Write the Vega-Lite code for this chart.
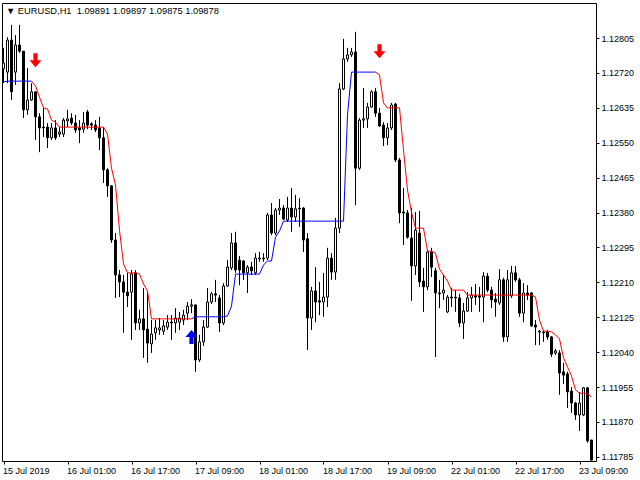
{
  "$schema": "https://vega.github.io/schema/vega-lite/v6.json",
  "width": 594,
  "height": 458,
  "autosize": {"type": "none"},
  "padding": {"left": 2, "top": 3, "right": 44, "bottom": 19},
  "background": "white",
  "title": {
    "text": "▼ EURUSD,H1\u00a0 1.09891 1.09897 1.09875 1.09878",
    "anchor": "start",
    "frame": "group",
    "offset": -13,
    "dx": 4,
    "font": "Liberation Sans",
    "fontSize": 9.3,
    "fontWeight": "normal",
    "color": "black"
  },
  "datasets": {
    "bars": [
      {"i":0,"o":1.12730,"h":1.12781,"l":1.12695,"c":1.12744},
      {"i":1,"o":1.12722,"h":1.12807,"l":1.12695,"c":1.12800},
      {"i":2,"o":1.12800,"h":1.12837,"l":1.12654,"c":1.12674},
      {"i":3,"o":1.12722,"h":1.12812,"l":1.12691,"c":1.12788},
      {"i":4,"o":1.12788,"h":1.12837,"l":1.12769,"c":1.12773},
      {"i":5,"o":1.12773,"h":1.12773,"l":1.12610,"c":1.12630},
      {"i":6,"o":1.12630,"h":1.12732,"l":1.12618,"c":1.12654},
      {"i":7,"o":1.12654,"h":1.12695,"l":1.12652,"c":1.12674},
      {"i":8,"o":1.12674,"h":1.12674,"l":1.12557,"c":1.12613},
      {"i":9,"o":1.12613,"h":1.12622,"l":1.12527,"c":1.12586},
      {"i":10,"o":1.12588,"h":1.12635,"l":1.12564,"c":1.12586},
      {"i":11,"o":1.12588,"h":1.12598,"l":1.12537,"c":1.12562},
      {"i":12,"o":1.12562,"h":1.12598,"l":1.12557,"c":1.12586},
      {"i":13,"o":1.12586,"h":1.12605,"l":1.12557,"c":1.12562},
      {"i":14,"o":1.12571,"h":1.12588,"l":1.12564,"c":1.12576},
      {"i":15,"o":1.12571,"h":1.12610,"l":1.12564,"c":1.12605},
      {"i":16,"o":1.12603,"h":1.12630,"l":1.12588,"c":1.12608},
      {"i":17,"o":1.12610,"h":1.12622,"l":1.12593,"c":1.12598},
      {"i":18,"o":1.12598,"h":1.12618,"l":1.12574,"c":1.12581},
      {"i":19,"o":1.12586,"h":1.12605,"l":1.12549,"c":1.12581},
      {"i":20,"o":1.12583,"h":1.12625,"l":1.12574,"c":1.12598},
      {"i":21,"o":1.12625,"h":1.12630,"l":1.12583,"c":1.12593},
      {"i":22,"o":1.12596,"h":1.12600,"l":1.12581,"c":1.12593},
      {"i":23,"o":1.12593,"h":1.12605,"l":1.12576,"c":1.12581},
      {"i":24,"o":1.12586,"h":1.12613,"l":1.12532,"c":1.12562},
      {"i":25,"o":1.12562,"h":1.12588,"l":1.12452,"c":1.12484},
      {"i":26,"o":1.12484,"h":1.12488,"l":1.12418,"c":1.12445},
      {"i":27,"o":1.12445,"h":1.12447,"l":1.12306,"c":1.12313},
      {"i":28,"o":1.12313,"h":1.12330,"l":1.12172,"c":1.12228},
      {"i":29,"o":1.12228,"h":1.12240,"l":1.12174,"c":1.12211},
      {"i":30,"o":1.12211,"h":1.12228,"l":1.12087,"c":1.12186},
      {"i":31,"o":1.12186,"h":1.12233,"l":1.12150,"c":1.12177},
      {"i":32,"o":1.12186,"h":1.12240,"l":1.12070,"c":1.12230},
      {"i":33,"o":1.12233,"h":1.12240,"l":1.12094,"c":1.12111},
      {"i":34,"o":1.12111,"h":1.12143,"l":1.12094,"c":1.12121},
      {"i":35,"o":1.12121,"h":1.12196,"l":1.12026,"c":1.12094},
      {"i":36,"o":1.12096,"h":1.12186,"l":1.12014,"c":1.12062},
      {"i":37,"o":1.12060,"h":1.12118,"l":1.12038,"c":1.12084},
      {"i":38,"o":1.12087,"h":1.12118,"l":1.12070,"c":1.12099},
      {"i":39,"o":1.12094,"h":1.12123,"l":1.12082,"c":1.12099},
      {"i":40,"o":1.12091,"h":1.12118,"l":1.12082,"c":1.12104},
      {"i":41,"o":1.12101,"h":1.12130,"l":1.12094,"c":1.12113},
      {"i":42,"o":1.12113,"h":1.12130,"l":1.12070,"c":1.12111},
      {"i":43,"o":1.12111,"h":1.12147,"l":1.12087,"c":1.12123},
      {"i":44,"o":1.12113,"h":1.12138,"l":1.12094,"c":1.12123},
      {"i":45,"o":1.12118,"h":1.12143,"l":1.12106,"c":1.12130},
      {"i":46,"o":1.12135,"h":1.12162,"l":1.12118,"c":1.12152},
      {"i":47,"o":1.12152,"h":1.12169,"l":1.12135,"c":1.12155},
      {"i":48,"o":1.12155,"h":1.12155,"l":1.11992,"c":1.12021},
      {"i":49,"o":1.12021,"h":1.12082,"l":1.12016,"c":1.12065},
      {"i":50,"o":1.12065,"h":1.12118,"l":1.12055,"c":1.12101},
      {"i":51,"o":1.12101,"h":1.12196,"l":1.12099,"c":1.12162},
      {"i":52,"o":1.12162,"h":1.12186,"l":1.12157,"c":1.12182},
      {"i":53,"o":1.12182,"h":1.12216,"l":1.12162,"c":1.12179},
      {"i":54,"o":1.12172,"h":1.12179,"l":1.12089,"c":1.12111},
      {"i":55,"o":1.12111,"h":1.12208,"l":1.12106,"c":1.12201},
      {"i":56,"o":1.12201,"h":1.12264,"l":1.12199,"c":1.12247},
      {"i":57,"o":1.12245,"h":1.12330,"l":1.12240,"c":1.12306},
      {"i":58,"o":1.12306,"h":1.12333,"l":1.12233,"c":1.12240},
      {"i":59,"o":1.12264,"h":1.12274,"l":1.12203,"c":1.12240},
      {"i":60,"o":1.12262,"h":1.12264,"l":1.12216,"c":1.12233},
      {"i":61,"o":1.12233,"h":1.12252,"l":1.12184,"c":1.12247},
      {"i":62,"o":1.12247,"h":1.12260,"l":1.12228,"c":1.12238},
      {"i":63,"o":1.12233,"h":1.12281,"l":1.12228,"c":1.12269},
      {"i":64,"o":1.12267,"h":1.12284,"l":1.12260,"c":1.12269},
      {"i":65,"o":1.12267,"h":1.12281,"l":1.12260,"c":1.12269},
      {"i":66,"o":1.12269,"h":1.12379,"l":1.12264,"c":1.12374},
      {"i":67,"o":1.12374,"h":1.12403,"l":1.12325,"c":1.12330},
      {"i":68,"o":1.12330,"h":1.12391,"l":1.12325,"c":1.12386},
      {"i":69,"o":1.12386,"h":1.12413,"l":1.12374,"c":1.12391},
      {"i":70,"o":1.12391,"h":1.12398,"l":1.12362,"c":1.12364},
      {"i":71,"o":1.12362,"h":1.12418,"l":1.12357,"c":1.12391},
      {"i":72,"o":1.12391,"h":1.12440,"l":1.12333,"c":1.12369},
      {"i":73,"o":1.12369,"h":1.12423,"l":1.12357,"c":1.12389},
      {"i":74,"o":1.12391,"h":1.12415,"l":1.12345,"c":1.12389},
      {"i":75,"o":1.12391,"h":1.12393,"l":1.12284,"c":1.12313},
      {"i":76,"o":1.12316,"h":1.12330,"l":1.12045,"c":1.12123},
      {"i":77,"o":1.12123,"h":1.12199,"l":1.12094,"c":1.12189},
      {"i":78,"o":1.12189,"h":1.12247,"l":1.12113,"c":1.12162},
      {"i":79,"o":1.12165,"h":1.12211,"l":1.12130,"c":1.12162},
      {"i":80,"o":1.12162,"h":1.12233,"l":1.12126,"c":1.12174},
      {"i":81,"o":1.12174,"h":1.12294,"l":1.12150,"c":1.12269},
      {"i":82,"o":1.12269,"h":1.12281,"l":1.12216,"c":1.12235},
      {"i":83,"o":1.12235,"h":1.12367,"l":1.12216,"c":1.12342},
      {"i":84,"o":1.12342,"h":1.12695,"l":1.12330,"c":1.12681},
      {"i":85,"o":1.12681,"h":1.12803,"l":1.12678,"c":1.12754},
      {"i":86,"o":1.12754,"h":1.12781,"l":1.12747,"c":1.12764},
      {"i":87,"o":1.12764,"h":1.12781,"l":1.12759,"c":1.12771},
      {"i":88,"o":1.12771,"h":1.12820,"l":1.12398,"c":1.12488},
      {"i":89,"o":1.12488,"h":1.12610,"l":1.12484,"c":1.12605},
      {"i":90,"o":1.12605,"h":1.12683,"l":1.12586,"c":1.12608},
      {"i":91,"o":1.12608,"h":1.12647,"l":1.12586,"c":1.12637},
      {"i":92,"o":1.12637,"h":1.12678,"l":1.12635,"c":1.12674},
      {"i":93,"o":1.12674,"h":1.12683,"l":1.12613,"c":1.12622},
      {"i":94,"o":1.12622,"h":1.12635,"l":1.12588,"c":1.12591},
      {"i":95,"o":1.12593,"h":1.12600,"l":1.12542,"c":1.12562},
      {"i":96,"o":1.12562,"h":1.12598,"l":1.12544,"c":1.12586},
      {"i":97,"o":1.12586,"h":1.12647,"l":1.12581,"c":1.12642},
      {"i":98,"o":1.12644,"h":1.12647,"l":1.12503,"c":1.12508},
      {"i":99,"o":1.12508,"h":1.12513,"l":1.12354,"c":1.12379},
      {"i":100,"o":1.12381,"h":1.12440,"l":1.12301,"c":1.12379},
      {"i":101,"o":1.12379,"h":1.12386,"l":1.12316,"c":1.12320},
      {"i":102,"o":1.12318,"h":1.12391,"l":1.12165,"c":1.12250},
      {"i":103,"o":1.12250,"h":1.12381,"l":1.12228,"c":1.12337},
      {"i":104,"o":1.12330,"h":1.12384,"l":1.12199,"c":1.12211},
      {"i":105,"o":1.12213,"h":1.12245,"l":1.12138,"c":1.12199},
      {"i":106,"o":1.12199,"h":1.12289,"l":1.12191,"c":1.12284},
      {"i":107,"o":1.12284,"h":1.12294,"l":1.12223,"c":1.12247},
      {"i":108,"o":1.12238,"h":1.12245,"l":1.12028,"c":1.12184},
      {"i":109,"o":1.12184,"h":1.12216,"l":1.12147,"c":1.12182},
      {"i":110,"o":1.12184,"h":1.12228,"l":1.12167,"c":1.12191},
      {"i":111,"o":1.12138,"h":1.12179,"l":1.12135,"c":1.12174},
      {"i":112,"o":1.12174,"h":1.12196,"l":1.12150,"c":1.12172},
      {"i":113,"o":1.12174,"h":1.12191,"l":1.12138,"c":1.12172},
      {"i":114,"o":1.12172,"h":1.12182,"l":1.12101,"c":1.12111},
      {"i":115,"o":1.12111,"h":1.12160,"l":1.12072,"c":1.12140},
      {"i":116,"o":1.12140,"h":1.12186,"l":1.12138,"c":1.12172},
      {"i":117,"o":1.12172,"h":1.12199,"l":1.12138,"c":1.12179},
      {"i":118,"o":1.12177,"h":1.12206,"l":1.12155,"c":1.12174},
      {"i":119,"o":1.12177,"h":1.12199,"l":1.12138,"c":1.12174},
      {"i":120,"o":1.12174,"h":1.12235,"l":1.12113,"c":1.12225},
      {"i":121,"o":1.12225,"h":1.12233,"l":1.12186,"c":1.12191},
      {"i":122,"o":1.12191,"h":1.12199,"l":1.12147,"c":1.12167},
      {"i":123,"o":1.12169,"h":1.12184,"l":1.12126,"c":1.12162},
      {"i":124,"o":1.12160,"h":1.12242,"l":1.12155,"c":1.12216},
      {"i":125,"o":1.12216,"h":1.12221,"l":1.12065,"c":1.12077},
      {"i":126,"o":1.12077,"h":1.12240,"l":1.12065,"c":1.12216},
      {"i":127,"o":1.12177,"h":1.12250,"l":1.12172,"c":1.12233},
      {"i":128,"o":1.12233,"h":1.12250,"l":1.12211,"c":1.12216},
      {"i":129,"o":1.12216,"h":1.12221,"l":1.12126,"c":1.12135},
      {"i":130,"o":1.12135,"h":1.12208,"l":1.12113,"c":1.12184},
      {"i":131,"o":1.12184,"h":1.12203,"l":1.12167,"c":1.12179},
      {"i":132,"o":1.12184,"h":1.12186,"l":1.12101,"c":1.12104},
      {"i":133,"o":1.12106,"h":1.12118,"l":1.12057,"c":1.12101},
      {"i":134,"o":1.12091,"h":1.12094,"l":1.12057,"c":1.12089},
      {"i":135,"o":1.12089,"h":1.12094,"l":1.12065,"c":1.12087},
      {"i":136,"o":1.12089,"h":1.12094,"l":1.12070,"c":1.12077},
      {"i":137,"o":1.12077,"h":1.12079,"l":1.12028,"c":1.12035},
      {"i":138,"o":1.12038,"h":1.12048,"l":1.12033,"c":1.12043},
      {"i":139,"o":1.12038,"h":1.12045,"l":1.11936,"c":1.11989},
      {"i":140,"o":1.11992,"h":1.12014,"l":1.11962,"c":1.11984},
      {"i":141,"o":1.11987,"h":1.11992,"l":1.11904,"c":1.11943},
      {"i":142,"o":1.11945,"h":1.11955,"l":1.11892,"c":1.11916},
      {"i":143,"o":1.11916,"h":1.11919,"l":1.11875,"c":1.11887},
      {"i":144,"o":1.11887,"h":1.11943,"l":1.11848,"c":1.11916},
      {"i":145,"o":1.11887,"h":1.11955,"l":1.11884,"c":1.11953},
      {"i":146,"o":1.11953,"h":1.11955,"l":1.11819,"c":1.11824},
      {"i":147,"o":1.11826,"h":1.11826,"l":1.11775,"c":1.11777}
    ],
    "stop": [
      {"i":0,"v":1.12698,"t":"up","g":1},
      {"i":1,"v":1.12700,"t":"up","g":1},
      {"i":2,"v":1.12700,"t":"up","g":1},
      {"i":3,"v":1.12700,"t":"up","g":1},
      {"i":4,"v":1.12700,"t":"up","g":1},
      {"i":5,"v":1.12700,"t":"up","g":1},
      {"i":6,"v":1.12700,"t":"up","g":1},
      {"i":7,"v":1.12700,"t":"up","g":1},
      {"i":7,"v":1.12700,"t":"down","g":2},
      {"i":8,"v":1.12688,"t":"down","g":2},
      {"i":9,"v":1.12661,"t":"down","g":2},
      {"i":10,"v":1.12635,"t":"down","g":2},
      {"i":11,"v":1.12632,"t":"down","g":2},
      {"i":12,"v":1.12605,"t":"down","g":2},
      {"i":13,"v":1.12600,"t":"down","g":2},
      {"i":14,"v":1.12588,"t":"down","g":2},
      {"i":15,"v":1.12588,"t":"down","g":2},
      {"i":16,"v":1.12588,"t":"down","g":2},
      {"i":17,"v":1.12588,"t":"down","g":2},
      {"i":18,"v":1.12588,"t":"down","g":2},
      {"i":19,"v":1.12588,"t":"down","g":2},
      {"i":20,"v":1.12588,"t":"down","g":2},
      {"i":21,"v":1.12588,"t":"down","g":2},
      {"i":22,"v":1.12588,"t":"down","g":2},
      {"i":23,"v":1.12588,"t":"down","g":2},
      {"i":24,"v":1.12588,"t":"down","g":2},
      {"i":25,"v":1.12588,"t":"down","g":2},
      {"i":26,"v":1.12571,"t":"down","g":2},
      {"i":27,"v":1.12488,"t":"down","g":2},
      {"i":28,"v":1.12447,"t":"down","g":2},
      {"i":29,"v":1.12337,"t":"down","g":2},
      {"i":30,"v":1.12255,"t":"down","g":2},
      {"i":31,"v":1.12233,"t":"down","g":2},
      {"i":32,"v":1.12233,"t":"down","g":2},
      {"i":33,"v":1.12233,"t":"down","g":2},
      {"i":34,"v":1.12230,"t":"down","g":2},
      {"i":35,"v":1.12206,"t":"down","g":2},
      {"i":36,"v":1.12189,"t":"down","g":2},
      {"i":37,"v":1.12121,"t":"down","g":2},
      {"i":38,"v":1.12121,"t":"down","g":2},
      {"i":39,"v":1.12121,"t":"down","g":2},
      {"i":40,"v":1.12121,"t":"down","g":2},
      {"i":41,"v":1.12121,"t":"down","g":2},
      {"i":42,"v":1.12121,"t":"down","g":2},
      {"i":43,"v":1.12121,"t":"down","g":2},
      {"i":44,"v":1.12121,"t":"down","g":2},
      {"i":45,"v":1.12121,"t":"down","g":2},
      {"i":46,"v":1.12121,"t":"down","g":2},
      {"i":47,"v":1.12121,"t":"down","g":2},
      {"i":47,"v":1.12121,"t":"up","g":3},
      {"i":48,"v":1.12126,"t":"up","g":3},
      {"i":49,"v":1.12126,"t":"up","g":3},
      {"i":50,"v":1.12126,"t":"up","g":3},
      {"i":51,"v":1.12126,"t":"up","g":3},
      {"i":52,"v":1.12126,"t":"up","g":3},
      {"i":53,"v":1.12126,"t":"up","g":3},
      {"i":54,"v":1.12126,"t":"up","g":3},
      {"i":55,"v":1.12126,"t":"up","g":3},
      {"i":56,"v":1.12128,"t":"up","g":3},
      {"i":57,"v":1.12152,"t":"up","g":3},
      {"i":58,"v":1.12230,"t":"up","g":3},
      {"i":59,"v":1.12230,"t":"up","g":3},
      {"i":60,"v":1.12230,"t":"up","g":3},
      {"i":61,"v":1.12230,"t":"up","g":3},
      {"i":62,"v":1.12230,"t":"up","g":3},
      {"i":63,"v":1.12230,"t":"up","g":3},
      {"i":64,"v":1.12230,"t":"up","g":3},
      {"i":65,"v":1.12252,"t":"up","g":3},
      {"i":66,"v":1.12262,"t":"up","g":3},
      {"i":67,"v":1.12262,"t":"up","g":3},
      {"i":68,"v":1.12320,"t":"up","g":3},
      {"i":69,"v":1.12335,"t":"up","g":3},
      {"i":70,"v":1.12359,"t":"up","g":3},
      {"i":71,"v":1.12359,"t":"up","g":3},
      {"i":72,"v":1.12359,"t":"up","g":3},
      {"i":73,"v":1.12359,"t":"up","g":3},
      {"i":74,"v":1.12359,"t":"up","g":3},
      {"i":75,"v":1.12359,"t":"up","g":3},
      {"i":76,"v":1.12359,"t":"up","g":3},
      {"i":77,"v":1.12359,"t":"up","g":3},
      {"i":78,"v":1.12359,"t":"up","g":3},
      {"i":79,"v":1.12359,"t":"up","g":3},
      {"i":80,"v":1.12359,"t":"up","g":3},
      {"i":81,"v":1.12359,"t":"up","g":3},
      {"i":82,"v":1.12359,"t":"up","g":3},
      {"i":83,"v":1.12359,"t":"up","g":3},
      {"i":84,"v":1.12359,"t":"up","g":3},
      {"i":85,"v":1.12359,"t":"up","g":3},
      {"i":86,"v":1.12618,"t":"up","g":3},
      {"i":87,"v":1.12722,"t":"up","g":3},
      {"i":88,"v":1.12722,"t":"up","g":3},
      {"i":89,"v":1.12722,"t":"up","g":3},
      {"i":90,"v":1.12722,"t":"up","g":3},
      {"i":91,"v":1.12722,"t":"up","g":3},
      {"i":92,"v":1.12722,"t":"up","g":3},
      {"i":93,"v":1.12722,"t":"up","g":3},
      {"i":93,"v":1.12722,"t":"down","g":4},
      {"i":94,"v":1.12715,"t":"down","g":4},
      {"i":95,"v":1.12647,"t":"down","g":4},
      {"i":96,"v":1.12635,"t":"down","g":4},
      {"i":97,"v":1.12635,"t":"down","g":4},
      {"i":98,"v":1.12635,"t":"down","g":4},
      {"i":99,"v":1.12635,"t":"down","g":4},
      {"i":100,"v":1.12532,"t":"down","g":4},
      {"i":101,"v":1.12435,"t":"down","g":4},
      {"i":102,"v":1.12381,"t":"down","g":4},
      {"i":103,"v":1.12342,"t":"down","g":4},
      {"i":104,"v":1.12342,"t":"down","g":4},
      {"i":105,"v":1.12342,"t":"down","g":4},
      {"i":106,"v":1.12286,"t":"down","g":4},
      {"i":107,"v":1.12286,"t":"down","g":4},
      {"i":108,"v":1.12281,"t":"down","g":4},
      {"i":109,"v":1.12242,"t":"down","g":4},
      {"i":110,"v":1.12228,"t":"down","g":4},
      {"i":111,"v":1.12213,"t":"down","g":4},
      {"i":112,"v":1.12191,"t":"down","g":4},
      {"i":113,"v":1.12191,"t":"down","g":4},
      {"i":114,"v":1.12191,"t":"down","g":4},
      {"i":115,"v":1.12191,"t":"down","g":4},
      {"i":116,"v":1.12179,"t":"down","g":4},
      {"i":117,"v":1.12179,"t":"down","g":4},
      {"i":118,"v":1.12179,"t":"down","g":4},
      {"i":119,"v":1.12179,"t":"down","g":4},
      {"i":120,"v":1.12179,"t":"down","g":4},
      {"i":121,"v":1.12179,"t":"down","g":4},
      {"i":122,"v":1.12179,"t":"down","g":4},
      {"i":123,"v":1.12179,"t":"down","g":4},
      {"i":124,"v":1.12179,"t":"down","g":4},
      {"i":125,"v":1.12179,"t":"down","g":4},
      {"i":126,"v":1.12179,"t":"down","g":4},
      {"i":127,"v":1.12179,"t":"down","g":4},
      {"i":128,"v":1.12179,"t":"down","g":4},
      {"i":129,"v":1.12179,"t":"down","g":4},
      {"i":130,"v":1.12179,"t":"down","g":4},
      {"i":131,"v":1.12179,"t":"down","g":4},
      {"i":132,"v":1.12179,"t":"down","g":4},
      {"i":133,"v":1.12174,"t":"down","g":4},
      {"i":134,"v":1.12118,"t":"down","g":4},
      {"i":135,"v":1.12091,"t":"down","g":4},
      {"i":136,"v":1.12091,"t":"down","g":4},
      {"i":137,"v":1.12089,"t":"down","g":4},
      {"i":138,"v":1.12082,"t":"down","g":4},
      {"i":139,"v":1.12072,"t":"down","g":4},
      {"i":140,"v":1.12026,"t":"down","g":4},
      {"i":141,"v":1.12004,"t":"down","g":4},
      {"i":142,"v":1.11982,"t":"down","g":4},
      {"i":143,"v":1.11948,"t":"down","g":4},
      {"i":144,"v":1.11940,"t":"down","g":4},
      {"i":145,"v":1.11940,"t":"down","g":4},
      {"i":146,"v":1.11938,"t":"down","g":4},
      {"i":147,"v":1.11931,"t":"down","g":4}
    ],
    "arrows": [
      {"i":8,"p":1.12751,"t":"down"},
      {"i":94,"p":1.12773,"t":"down"},
      {"i":47,"p":1.12077,"t":"up"}
    ]
  },
  "encoding": {
    "x": {
      "field": "i",
      "type": "quantitative",
      "scale": {"domain": [-0.375, 148.125], "nice": false, "zero": false, "padding": 0},
      "axis": {
        "values": [0, 16, 32, 48, 64, 80, 96, 112, 128, 144],
        "labelExpr": "['15 Jul 2019','16 Jul 01:00','16 Jul 17:00','17 Jul 09:00','18 Jul 01:00','18 Jul 17:00','19 Jul 09:00','22 Jul 01:00','22 Jul 17:00','23 Jul 09:00'][round(datum.value / 16)]",
        "labelAlign": "left",
        "labelOffset": -1,
        "labelFlush": false,
        "labelOverlap": false,
        "labelPadding": 2,
        "tickSize": 3,
        "title": null
      }
    }
  },
  "layer": [
    {
      "data": {"name": "bars"},
      "mark": {"type": "rule", "color": "black", "strokeWidth": 1},
      "encoding": {
        "y": {
          "field": "h",
          "type": "quantitative",
          "scale": {"domain": [1.117748, 1.128903], "nice": false, "zero": false, "padding": 0},
          "axis": {
            "orient": "right",
            "values": [1.11785, 1.1187, 1.11955, 1.1204, 1.12125, 1.1221, 1.12295, 1.1238, 1.12465, 1.1255, 1.12635, 1.1272, 1.12805],
            "format": ".5f",
            "tickSize": 3,
            "labelPadding": 2,
            "title": null
          }
        },
        "y2": {"field": "l"}
      }
    },
    {
      "data": {"name": "bars"},
      "mark": {"type": "bar", "width": 2, "stroke": "black", "strokeWidth": 1},
      "encoding": {
        "y": {
          "field": "o",
          "type": "quantitative",
          "scale": {"domain": [1.117748, 1.128903], "nice": false, "zero": false, "padding": 0},
          "axis": {
            "orient": "right",
            "values": [1.11785, 1.1187, 1.11955, 1.1204, 1.12125, 1.1221, 1.12295, 1.1238, 1.12465, 1.1255, 1.12635, 1.1272, 1.12805],
            "format": ".5f",
            "tickSize": 3,
            "labelPadding": 2,
            "title": null
          }
        },
        "y2": {"field": "c"},
        "fill": {
          "condition": {"test": "datum.c > datum.o", "value": "white"},
          "value": "black"
        }
      }
    },
    {
      "data": {"name": "stop"},
      "mark": {"type": "line", "strokeWidth": 1},
      "encoding": {
        "y": {
          "field": "v",
          "type": "quantitative",
          "scale": {"domain": [1.117748, 1.128903], "nice": false, "zero": false, "padding": 0},
          "axis": {
            "orient": "right",
            "values": [1.11785, 1.1187, 1.11955, 1.1204, 1.12125, 1.1221, 1.12295, 1.1238, 1.12465, 1.1255, 1.12635, 1.1272, 1.12805],
            "format": ".5f",
            "tickSize": 3,
            "labelPadding": 2,
            "title": null
          }
        },
        "color": {
          "field": "t",
          "type": "nominal",
          "scale": {"domain": ["up", "down"], "range": ["#0000ff", "#ff0000"]},
          "legend": null
        },
        "detail": {"field": "g"}
      }
    },
    {
      "data": {"name": "arrows"},
      "mark": {"type": "point", "filled": true, "size": 196, "opacity": 1},
      "encoding": {
        "y": {
          "field": "p",
          "type": "quantitative",
          "scale": {"domain": [1.117748, 1.128903], "nice": false, "zero": false, "padding": 0},
          "axis": {
            "orient": "right",
            "values": [1.11785, 1.1187, 1.11955, 1.1204, 1.12125, 1.1221, 1.12295, 1.1238, 1.12465, 1.1255, 1.12635, 1.1272, 1.12805],
            "format": ".5f",
            "tickSize": 3,
            "labelPadding": 2,
            "title": null
          }
        },
        "color": {
          "field": "t",
          "type": "nominal",
          "scale": {"domain": ["up", "down"], "range": ["#0000ff", "#ff0000"]},
          "legend": null
        },
        "shape": {
          "field": "t",
          "type": "nominal",
          "scale": {
            "domain": ["up", "down"],
            "range": ["M-0.3,1L0.3,1L0.3,0L0.85,0L0,-1L-0.85,0L-0.3,0Z", "M-0.3,-1L0.3,-1L0.3,0L0.85,0L0,1L-0.85,0L-0.3,0Z"]
          },
          "legend": null
        }
      }
    }
  ],
  "config": {
    "view": {"stroke": "black", "strokeWidth": 1},
    "axis": {
      "labelFont": "Liberation Sans",
      "labelFontSize": 9,
      "labelColor": "black",
      "tickColor": "black",
      "domain": false,
      "grid": false
    }
  }
}
